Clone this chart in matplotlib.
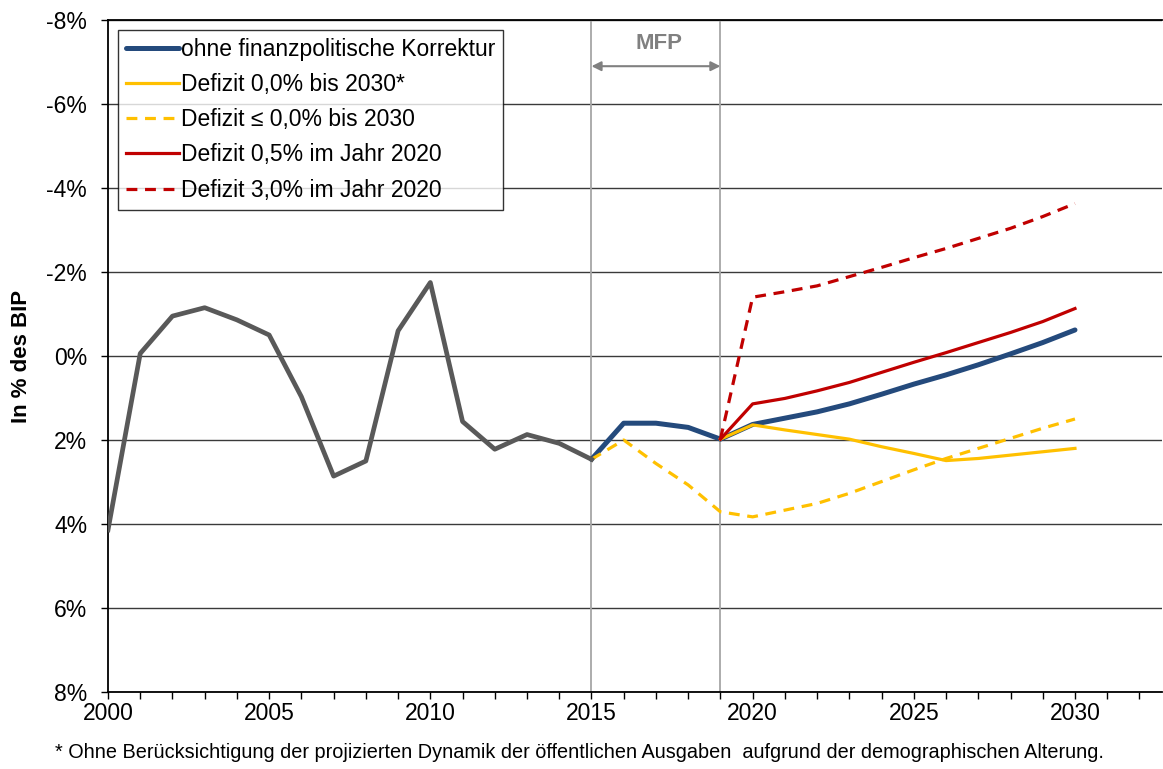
import numpy as np
import matplotlib
matplotlib.use("Agg")
import matplotlib.pyplot as plt
from matplotlib.ticker import FixedLocator

plt.rcParams['font.family'] = ['Liberation Sans', 'DejaVu Sans']

# Historical balance 2000-2015 (in % of GDP, positive = deficit)
hist_years = list(range(2000, 2016))
hist_vals = [4.14, -0.06, -0.95, -1.15, -0.86, -0.50, 0.97, 2.86, 2.50,
             -0.60, -1.75, 1.56, 2.22, 1.87, 2.08, 2.46]

# Projection without fiscal correction 2015-2030
base_years = list(range(2015, 2031))
base_vals = [2.46, 1.60, 1.60, 1.70, 1.98, 1.63, 1.48, 1.33, 1.14, 0.91,
             0.67, 0.45, 0.21, -0.05, -0.32, -0.62]

# Deficit 0.0% until 2030
zero_years = list(range(2019, 2031))
zero_vals = [1.98, 1.64, 1.76, 1.87, 1.98, 2.16, 2.32, 2.49, 2.44, 2.36,
             2.28, 2.20]

# Deficit <= 0.0% until 2030
le_zero_years = list(range(2015, 2031))
le_zero_vals = [2.46, 2.00, 2.56, 3.07, 3.71, 3.83, 3.67, 3.51, 3.27, 2.99,
                2.71, 2.44, 2.20, 1.96, 1.72, 1.50]

# Deficit 0.5% in 2020
d05_years = list(range(2019, 2031))
d05_vals = [1.98, 1.14, 1.01, 0.83, 0.63, 0.39, 0.15, -0.08, -0.32, -0.56,
            -0.82, -1.13]

# Deficit 3.0% in 2020
d30_years = list(range(2019, 2031))
d30_vals = [1.98, -1.40, -1.53, -1.67, -1.89, -2.11, -2.34, -2.56, -2.80,
            -3.04, -3.32, -3.63]

y_ticks = [-8, -6, -4, -2, 0, 2, 4, 6, 8]
x_label_years = [2000, 2005, 2010, 2015, 2020, 2025, 2030]

FS = 16.5

fig = plt.figure(figsize=(11.63, 7.69), dpi=100)
ax = fig.add_axes([108 / 1163, 77 / 769, (1162 - 108) / 1163, (692 - 20) / 769])

ax.set_xlim(2000, 2032.7)
ax.set_ylim(8, -8)

# grid
for v in y_ticks:
    ax.axhline(v, color='#3a3a3a', lw=1.0, zorder=1)
for yr in (2015, 2019):
    ax.axvline(yr, color='#a6a6a6', lw=1.3, zorder=1)

l_base, = ax.plot(base_years, base_vals, color='#244a7c', lw=3.6,
                  solid_joinstyle='round', solid_capstyle='round', zorder=3,
                  label='ohne finanzpolitische Korrektur')
l_zero, = ax.plot(zero_years, zero_vals, color='#ffc000', lw=2.3, zorder=4,
                  label='Defizit 0,0% bis 2030*')
l_le, = ax.plot(le_zero_years, le_zero_vals, color='#ffc000', lw=2.3,
                dashes=(3.4, 2.4), zorder=4,
                label='Defizit \u2264 0,0% bis 2030')
l_05, = ax.plot(d05_years, d05_vals, color='#c00000', lw=2.3, zorder=5,
                label='Defizit 0,5% im Jahr 2020')
l_30, = ax.plot(d30_years, d30_vals, color='#c00000', lw=2.3,
                dashes=(3.4, 2.4), zorder=5,
                label='Defizit 3,0% im Jahr 2020')
ax.plot(hist_years, hist_vals, color='#595959', lw=3.4,
        solid_joinstyle='round', zorder=6)

# MFP period marker
ax.annotate('', xy=(2015, -6.9), xytext=(2019, -6.9),
            arrowprops=dict(arrowstyle='<|-|>', color='#808080', lw=1.5,
                            mutation_scale=14, shrinkA=0, shrinkB=0))
ax.text(2017.1, -7.45, 'MFP', color='#808080', fontsize=16, fontweight='bold',
        ha='center', va='center')

# axes
ax.set_yticks(y_ticks)
ax.set_yticklabels([f'{v}%' for v in y_ticks], fontsize=FS)
ax.xaxis.set_major_locator(FixedLocator(list(range(2000, 2033))))
ax.set_xticklabels([str(y) if y in x_label_years else '' for y in range(2000, 2033)],
                   fontsize=FS)
ax.tick_params(axis='x', direction='out', length=5, width=1, pad=2.5)
ax.tick_params(axis='y', direction='out', length=5, width=1, pad=10)
ax.spines['right'].set_visible(False)
for s in ('left', 'top', 'bottom'):
    ax.spines[s].set_linewidth(1.3)
    ax.spines[s].set_color('black')

ax.set_ylabel('In % des BIP', fontsize=16, fontweight='bold', labelpad=10)

leg = ax.legend(handles=[l_base, l_zero, l_le, l_05, l_30],
                loc='upper left', bbox_to_anchor=(10 / 1054, 1 - 10 / 672),
                fontsize=FS, frameon=True, fancybox=False, edgecolor='black',
                handlelength=2.3, handletextpad=0.1, labelspacing=0.53,
                borderpad=0.35, borderaxespad=0)
leg.get_frame().set_linewidth(1.0)
leg.set_zorder(10)

fig.text(55 / 1163, 1 - 753 / 769,
         '* Ohne Berücksichtigung der projizierten Dynamik der öffentlichen Ausgaben  aufgrund der demographischen Alterung.',
         fontsize=14.3, ha='left', va='center')

fig.savefig('out.png', dpi=100)
